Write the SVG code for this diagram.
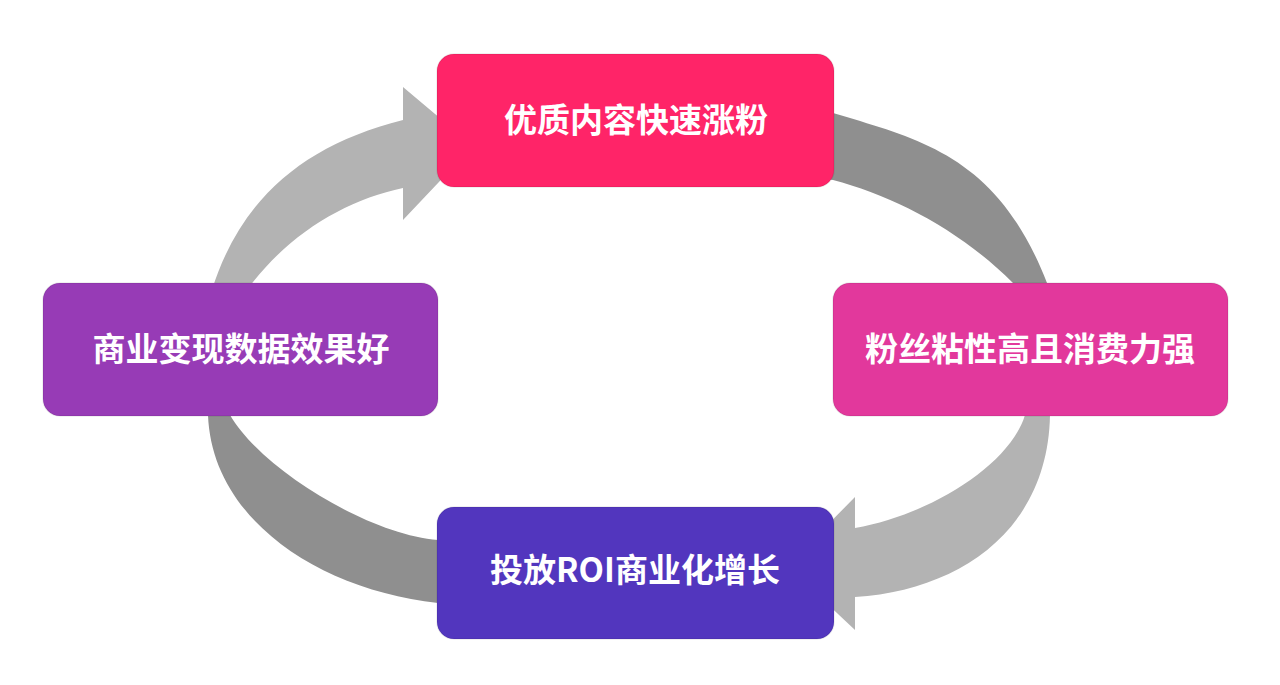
<svg xmlns="http://www.w3.org/2000/svg" width="1280" height="685" viewBox="0 0 1280 685">
<style>
.box{stroke:rgba(0,0,0,0.08);stroke-width:1.5}
.lbl{font-family:"Noto Sans CJK SC","Noto Sans",sans-serif;font-weight:700;font-size:33px;fill:#ffffff;text-anchor:middle}
.light{fill:#b3b3b3}
.dark{fill:#8f8f8f}
</style>
<rect width="1280" height="685" fill="#ffffff"/>
<g id="connectors">
<path class="light" d="M212,290 C240,200 303,145 403,120 L403,87 L473,146 L403,220 L403,188 C345,200 287,235 247,290 Z"/>
<path class="dark" d="M815,111 L833,113 C923,140 998,157 1047,283 L1047,295 L1013,295 L1013,283 C959,229 893,196 833,180 L815,178 Z"/>
<path class="light" d="M1050,405 L1050,415 C1048,530 960,590 855,597 L855,630 L787,566 L855,497 L855,528 C930,515 1010,465 1025,415 L1025,405 Z"/>
<path class="dark" d="M208,405 L208,415 C212,520 320,590 438,603 L450,605 L450,540 L438,540 C370,535 262,470 230,415 L230,405 Z"/>
</g>
<g id="node-top">
<rect class="box" x="437" y="54" width="397" height="133" rx="17" fill="#ff2468"/>
<text class="lbl" x="636" y="132">优质内容快速涨粉</text>
</g>
<g id="node-right">
<rect class="box" x="833" y="283" width="395" height="133" rx="17" fill="#e2389c"/>
<text class="lbl" x="1030" y="361">粉丝粘性高且消费力强</text>
</g>
<g id="node-bottom">
<rect class="box" x="437" y="507" width="397" height="132" rx="17" fill="#5236be"/>
<text class="lbl" x="635" y="582">投放ROI商业化增长</text>
</g>
<g id="node-left">
<rect class="box" x="43" y="283" width="395" height="133" rx="17" fill="#973bb6"/>
<text class="lbl" x="241" y="361">商业变现数据效果好</text>
</g>
</svg>
